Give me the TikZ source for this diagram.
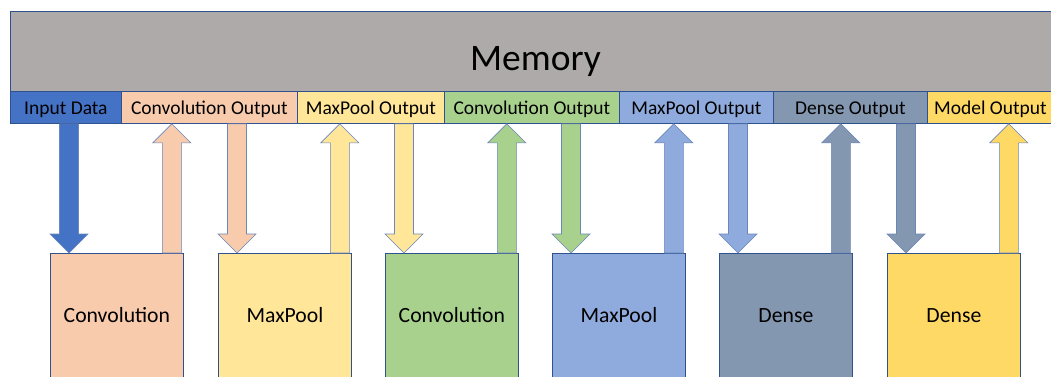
\documentclass[tikz,border=0pt]{standalone}
\usepackage{fontspec}
\setmainfont{Carlito}
\usetikzlibrary{calc}
\definecolor{memgray}{HTML}{AEAAAA}
\definecolor{inblue}{HTML}{4472C4}
\definecolor{corange}{HTML}{F8CBAD}
\definecolor{myellow}{HTML}{FFE699}
\definecolor{cgreen}{HTML}{A9D18E}
\definecolor{mblue}{HTML}{8FAADC}
\definecolor{dgray}{HTML}{8497B0}
\definecolor{oyellow}{HTML}{FFD966}
\definecolor{edge}{HTML}{2F528F}
\definecolor{aedge}{HTML}{6A86BA}
\tikzset{
  cell/.style={draw=edge, line width=0.8pt, anchor=north west, inner sep=0pt,
    minimum height=32pt, text height=14pt, text depth=0pt,
    font=\fontsize{19.5}{22}\selectfont, text=black},
  opbox/.style={draw=edge, line width=0.8pt, anchor=north west, inner sep=0pt,
    minimum width=133pt, minimum height=140pt, text height=10pt, text depth=12pt,
    font=\fontsize{21.7}{25}\selectfont, text=black},
  blk/.style={draw=aedge, line width=0.6pt, line join=miter},
}
% #1 source cell, #2 target box, #3 fill
\newcommand{\blkdown}[3]{%
  \filldraw[blk, fill=#3] let \p1=($(#2.north west)+(19pt,0)$), \p2=(#1.south) in
   (\x1-9.5pt,\y2) -- (\x1+9.5pt,\y2) -- (\x1+9.5pt,\y1+19pt) -- (\x1+19pt,\y1+19pt)
   -- (\x1,\y1) -- (\x1-19pt,\y1+19pt) -- (\x1-9.5pt,\y1+19pt) -- cycle;}
% #1 source box, #2 target cell, #3 fill
\newcommand{\blkup}[3]{%
  \filldraw[blk, fill=#3] let \p1=($(#1.north east)+(-12pt,0)$), \p2=(#2.south) in
   (\x1-9.5pt,\y1) -- (\x1+9.5pt,\y1) -- (\x1+9.5pt,\y2-19pt) -- (\x1+19pt,\y2-19pt)
   -- (\x1,\y2) -- (\x1-19pt,\y2-19pt) -- (\x1-9.5pt,\y2-19pt) -- cycle;}
\begin{document}
\begin{tikzpicture}[x=1pt,y=-1pt]
\useasboundingbox (0,0) rectangle (1051,376);
% memory
\node[draw=edge, line width=0.8pt, fill=memgray, anchor=north west, inner sep=0pt,
  minimum width=1050pt, minimum height=80pt, text height=38pt, text depth=0pt,
  font=\fontsize{37.5}{40}\selectfont]
  (mem) at (10,11) {Memory};
% label cells
\node[cell, fill=inblue,  minimum width=111pt] (l0) at (10,91)  {Input Data};
\node[cell, fill=corange, minimum width=176pt] (l1) at (121,91) {Convolution Output};
\node[cell, fill=myellow, minimum width=147pt] (l2) at (297,91) {MaxPool Output};
\node[cell, fill=cgreen,  minimum width=175pt] (l3) at (444,91) {Convolution Output};
\node[cell, fill=mblue,   minimum width=154pt] (l4) at (619,91) {MaxPool Output};
\node[cell, fill=dgray,   minimum width=154pt] (l5) at (773,91) {Dense Output};
\node[cell, fill=oyellow, minimum width=126pt] (l6) at (927,91) {Model Output};
% operation boxes
\node[opbox, fill=corange] (b1) at (50,253)  {Convolution};
\node[opbox, fill=myellow] (b2) at (218,253) {MaxPool};
\node[opbox, fill=cgreen]  (b3) at (385,253) {Convolution};
\node[opbox, fill=mblue]   (b4) at (552,253) {MaxPool};
\node[opbox, fill=dgray]   (b5) at (719,253) {Dense};
\node[opbox, fill=oyellow] (b6) at (887,253) {Dense};
% block arrows
\blkdown{l0}{b1}{inblue}
\blkup{b1}{l1}{corange}
\blkdown{l1}{b2}{corange}
\blkup{b2}{l2}{myellow}
\blkdown{l2}{b3}{myellow}
\blkup{b3}{l3}{cgreen}
\blkdown{l3}{b4}{cgreen}
\blkup{b4}{l4}{mblue}
\blkdown{l4}{b5}{mblue}
\blkup{b5}{l5}{dgray}
\blkdown{l5}{b6}{dgray}
\blkup{b6}{l6}{oyellow}
\end{tikzpicture}
\end{document}
